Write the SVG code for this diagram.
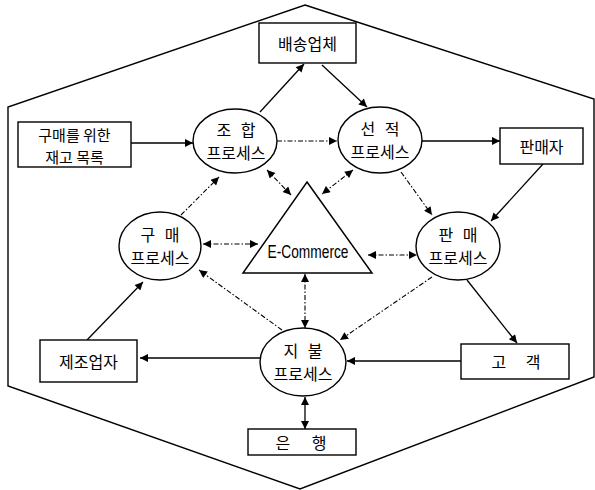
<svg xmlns="http://www.w3.org/2000/svg" width="595" height="490" viewBox="0 0 595 490">
  <style>
    .frame { fill: none; stroke: #000; stroke-width: 1.4; }
    .box { fill: #fff; stroke: #000; stroke-width: 1.4; }
    .proc { fill: #fff; stroke: #000; stroke-width: 1.4; }
    .tri { fill: #fff; stroke: #000; stroke-width: 1.5; }
    .lbl { font-family: "Noto Sans CJK KR", "Noto Sans", sans-serif; font-size: 16px; fill: #000; text-anchor: middle; dominant-baseline: central; }
    .sm { font-size: 15px; }
    .en { font-family: "Liberation Sans", Arial, sans-serif; font-size: 18px; fill: #000; text-anchor: middle; }
    .flow { fill: none; stroke: #000; stroke-width: 1.3; marker-end: url(#head); }
    .link { fill: none; stroke: #000; stroke-width: 1.1; stroke-dasharray: 5 2 1.5 2; marker-end: url(#head); }
    .both { marker-start: url(#head); }
  </style>
  <defs>
    <marker id="head" viewBox="0 0 10 10" refX="10" refY="5" markerUnits="userSpaceOnUse" markerWidth="11" markerHeight="8" orient="auto-start-reverse">
      <path d="M0,0 L10,5 L0,10 z" fill="#000"/>
    </marker>
  </defs>

  <!-- outer hexagonal boundary -->
  <polygon class="frame" points="305,5 594,99 594,377 300,489 8,386 8,107"/>

  <!-- connectors -->
  <g id="connectors">
    <!-- solid flows -->
    <line class="flow" x1="131" y1="143" x2="193" y2="143"/>
    <line class="flow" x1="260" y1="112" x2="304" y2="64"/>
    <line class="flow" x1="322" y1="65" x2="367" y2="107"/>
    <line class="flow" x1="422" y1="141" x2="500" y2="141"/>
    <line class="flow" x1="543" y1="164" x2="491" y2="221"/>
    <line class="flow" x1="467" y1="280" x2="517" y2="343"/>
    <line class="flow" x1="461" y1="361" x2="347" y2="361"/>
    <line class="flow" x1="260" y1="358" x2="140" y2="358"/>
    <line class="flow" x1="87" y1="340" x2="143" y2="282"/>
    <line class="flow both" x1="305" y1="397" x2="305" y2="429" stroke-width="2"/>

    <!-- dash-dot links -->
    <line class="link" x1="277" y1="141" x2="337" y2="141"/>
    <line class="link" x1="181" y1="215" x2="219" y2="177"/>
    <line class="link both" x1="267" y1="170" x2="291" y2="195"/>
    <line class="link both" x1="353" y1="170" x2="322" y2="194"/>
    <line class="link" x1="401" y1="172" x2="432" y2="215"/>
    <line class="link both" x1="203" y1="244" x2="258" y2="244"/>
    <line class="link both" x1="368" y1="255" x2="417" y2="255"/>
    <line class="link both" x1="305" y1="274" x2="305" y2="328"/>
    <line class="link" x1="432" y1="277" x2="340" y2="340"/>
    <line class="link" x1="282" y1="330" x2="199" y2="270"/>
  </g>

  <!-- external parties -->
  <g id="shipper">
    <rect class="box" x="259" y="23" width="97" height="40"/>
    <text class="lbl" x="307.5" y="43">배송업체</text>
  </g>
  <g id="inventory">
    <rect class="box" x="18" y="122" width="113" height="45"/>
    <text class="lbl sm" x="74.5" y="134">구매를 위한</text>
    <text class="lbl sm" x="74.5" y="156">재고 목록</text>
  </g>
  <g id="seller">
    <rect class="box" x="500" y="128" width="83" height="36"/>
    <text class="lbl" x="541.5" y="146">판매자</text>
  </g>
  <g id="manufacturer">
    <rect class="box" x="40" y="340" width="97" height="42"/>
    <text class="lbl" x="88.5" y="361">제조업자</text>
  </g>
  <g id="customer">
    <rect class="box" x="461" y="344" width="108" height="35"/>
    <text class="lbl" x="516" y="361" word-spacing="16">고 객</text>
  </g>
  <g id="bank">
    <rect class="box" x="248" y="429" width="108" height="26"/>
    <text class="lbl" x="301" y="442" word-spacing="18">은 행</text>
  </g>

  <!-- processes -->
  <g id="assembly">
    <ellipse class="proc" cx="235" cy="141" rx="42" ry="32"/>
    <text class="lbl" x="236" y="129" word-spacing="6">조 합</text>
    <text class="lbl" x="236" y="152">프로세스</text>
  </g>
  <g id="shipping">
    <ellipse class="proc" cx="380" cy="140" rx="42" ry="33"/>
    <text class="lbl" x="380" y="128" word-spacing="6">선 적</text>
    <text class="lbl" x="380" y="151">프로세스</text>
  </g>
  <g id="purchase">
    <ellipse class="proc" cx="160" cy="246" rx="41" ry="34"/>
    <text class="lbl" x="160" y="234" word-spacing="6">구 매</text>
    <text class="lbl" x="160" y="257">프로세스</text>
  </g>
  <g id="sales">
    <ellipse class="proc" cx="458" cy="246" rx="42" ry="34"/>
    <text class="lbl" x="458" y="234" word-spacing="6">판 매</text>
    <text class="lbl" x="458" y="257">프로세스</text>
  </g>
  <g id="payment">
    <ellipse class="proc" cx="303" cy="362" rx="43" ry="34"/>
    <text class="lbl" x="303" y="350" word-spacing="6">지 불</text>
    <text class="lbl" x="303" y="373">프로세스</text>
  </g>

  <!-- hub -->
  <g id="ecommerce">
    <polygon class="tri" points="307,182 372,273 243,273"/>
    <text class="en" x="308" y="258" textLength="81" lengthAdjust="spacingAndGlyphs">E-Commerce</text>
  </g>
</svg>
